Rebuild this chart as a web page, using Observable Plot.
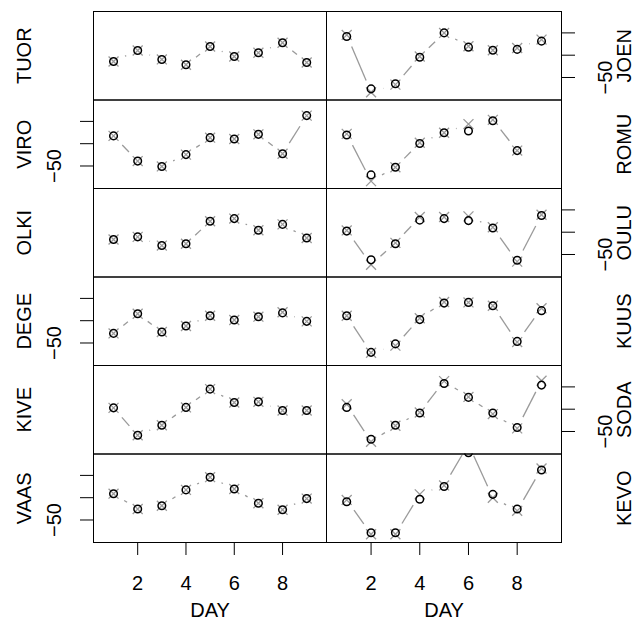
<!DOCTYPE html>
<html>
<head>
<meta charset="utf-8">
<script src="https://cdn.jsdelivr.net/npm/d3@7"></script>
<script src="https://cdn.jsdelivr.net/npm/@observablehq/plot@0.6"></script>
<style>
  html, body { margin: 0; padding: 0; background: white; }
  #chart { position: relative; width: 637px; height: 621px; }
  #chart svg { position: absolute; left: 0; top: 0; }
</style>
</head>
<body>
<div id="chart"></div>
<script>
// ---- data ----
const days = [1, 2, 3, 4, 5, 6, 7, 8, 9];
const xTicks = [2, 4, 6, 8];
const yTicks = [-50, -40, -30];
const yTickLabel = "−50";
const xLabel = "DAY";

const leftStations = ["TUOR", "VIRO", "OLKI", "DEGE", "KIVE", "VAAS"];
const rightStations = ["JOEN", "ROMU", "OULU", "KUUS", "SODA", "KEVO"];

const TUOR_obs = [-42.8, -37.9, -41.9, -44.3, -36.1, -40.6, -38.9, -34.4, -43.3];
const TUOR_fit = [-42.8, -37.9, -41.9, -44.3, -36.1, -40.6, -38.9, -34.4, -43.3];
const VIRO_obs = [-36.5, -47.8, -50.2, -44.9, -37.3, -37.9, -35.8, -44.5, -27.4];
const VIRO_fit = [-36.5, -47.8, -50.2, -44.9, -37.3, -37.9, -35.8, -44.5, -27.4];
const OLKI_obs = [-43.3, -42.1, -46.0, -45.2, -35.1, -33.9, -39.1, -36.5, -42.6];
const OLKI_fit = [-43.3, -42.1, -46.0, -45.2, -35.1, -33.9, -39.1, -36.5, -42.6];
const DEGE_obs = [-45.7, -36.9, -45.1, -42.4, -37.8, -39.7, -38.2, -36.5, -40.3];
const DEGE_fit = [-45.7, -36.9, -45.1, -42.4, -37.8, -39.7, -38.2, -36.2, -40.3];
const KIVE_obs = [-39.4, -51.7, -47.2, -39.2, -31.0, -37.0, -36.7, -40.6, -40.6];
const KIVE_fit = [-39.4, -51.7, -47.2, -39.2, -31.0, -37.0, -36.7, -40.6, -40.6];
const VAAS_obs = [-38.2, -45.1, -43.6, -36.5, -30.8, -36.1, -42.5, -45.4, -40.4];
const VAAS_fit = [-38.2, -45.1, -43.6, -36.5, -30.8, -36.1, -42.5, -45.4, -40.4];

const JOEN_obs = [-31.6, -55.1, -52.8, -40.9, -30.0, -36.4, -37.8, -37.4, -33.7];
const JOEN_fit = [-30.9, -56.6, -53.2, -40.6, -30.0, -36.0, -37.8, -36.8, -33.0];
const ROMU_obs = [-36.1, -54.0, -50.6, -39.9, -35.1, -34.3, -29.7, -43.1, null];
const ROMU_fit = [-35.6, -56.8, -50.6, -39.6, -35.1, -31.2, -29.3, -43.1, null];
const OULU_obs = [-39.5, -52.4, -45.2, -34.6, -33.9, -34.8, -38.1, -52.6, -32.5];
const OULU_fit = [-39.2, -54.6, -44.8, -33.2, -33.2, -32.9, -37.8, -53.2, -32.2];
const KUUS_obs = [-37.8, -54.2, -50.4, -39.5, -32.1, -31.8, -33.3, -49.3, -35.5];
const KUUS_fit = [-37.8, -54.4, -51.2, -38.9, -31.6, -31.8, -33.3, -49.6, -34.4];
const SODA_obs = [-39.2, -53.5, -47.2, -41.7, -28.5, -34.7, -41.7, -48.2, -29.2];
const SODA_fit = [-37.8, -54.6, -47.4, -41.5, -27.4, -34.5, -42.2, -48.6, -27.2];
const KEVO_obs = [-41.8, -55.7, -55.7, -40.7, -35.0, -19.8, -38.5, -45.1, -27.6];
const KEVO_fit = [-41.0, -56.4, -56.4, -38.5, -34.5, -16.0, -40.0, -45.9, -26.9];

const observed = {TUOR: TUOR_obs, VIRO: VIRO_obs, OLKI: OLKI_obs, DEGE: DEGE_obs, KIVE: KIVE_obs, VAAS: VAAS_obs,
  JOEN: JOEN_obs, ROMU: ROMU_obs, OULU: OULU_obs, KUUS: KUUS_obs, SODA: SODA_obs, KEVO: KEVO_obs};
const fitted = {TUOR: TUOR_fit, VIRO: VIRO_fit, OLKI: OLKI_fit, DEGE: DEGE_fit, KIVE: KIVE_fit, VAAS: VAAS_fit,
  JOEN: JOEN_fit, ROMU: ROMU_fit, OULU: OULU_fit, KUUS: KUUS_fit, SODA: SODA_fit, KEVO: KEVO_fit};

// ---- layout ----
const W = 637, H = 621;
const colX = [[93, 326], [326, 561]];
const top0 = 11, bottom0 = 542, nRows = 6;
const rowH = (bottom0 - top0) / nRows;
const xDomain = [0.17, 9.82];
const yDomain = [-60.1, -20.4];
const font = "'Liberation Sans', Arial, Helvetica, sans-serif";
const grey = "#9a9a9a";

function panel(name, col, row) {
  const obs = observed[name], fit = fitted[name];
  const pts = days.map((d, i) => ({day: d, obs: obs[i], fit: fit[i]}));
  const segs = [];
  for (let i = 0; i < days.length - 1; i++) {
    if (fit[i] != null && fit[i + 1] != null) segs.push({d1: days[i], v1: fit[i], d2: days[i + 1], v2: fit[i + 1]});
  }
  const [x0, x1] = colX[col];
  const y0 = top0 + row * rowH, y1 = y0 + rowH;
  const isLeft = col === 0;
  const hasYAxis = isLeft ? row % 2 === 1 : row % 2 === 0;
  const hasXAxis = row === nRows - 1;

  const marks = [
    Plot.frame({stroke: "black", strokeWidth: 1}),
    Plot.arrow(segs, {x1: "d1", y1: "v1", x2: "d2", y2: "v2", headLength: 0, bend: 0,
      insetStart: 12.6, insetEnd: 12.6, stroke: grey, strokeWidth: 1.3, strokeLinecap: "butt", clip: true}),
    Plot.dot(pts, {x: "day", y: "fit", symbol: "times", r: 4.6, stroke: grey, strokeWidth: 1.3, clip: true}),
    Plot.dot(pts, {x: "day", y: "obs", r: 3.8, stroke: "black", strokeWidth: 1.5, fill: "none", clip: true}),
    Plot.text([name], {text: d => d, frameAnchor: isLeft ? "left" : "right", dx: isLeft ? -69 : 63,
      rotate: -90, textAnchor: "middle", lineAnchor: "middle", fontSize: 20, fill: "black"})
  ];
  if (hasYAxis) {
    marks.push(Plot.axisY(yTicks, {anchor: isLeft ? "left" : "right", tickSize: 13, tickFormat: () => "", label: null, stroke: "black"}));
    marks.push(Plot.text([yTicks[0]], {y: d => d, text: () => yTickLabel, frameAnchor: isLeft ? "left" : "right",
      dx: isLeft ? -38.5 : 44, rotate: -90, textAnchor: "middle", lineAnchor: "middle", fontSize: 20, fill: "black"}));
  }
  if (hasXAxis) {
    marks.push(Plot.axisX(xTicks, {anchor: "bottom", tickSize: 13, tickPadding: 20, fontSize: 20, label: null, stroke: "black"}));
    marks.push(Plot.text([xLabel], {text: d => d, frameAnchor: "bottom", dy: 68, textAnchor: "middle",
      lineAnchor: "middle", fontSize: 20, fill: "black"}));
  }
  return Plot.plot({
    width: W, height: H,
    marginLeft: x0, marginRight: W - x1, marginTop: y0, marginBottom: H - y1,
    x: hasXAxis ? {domain: xDomain} : {domain: xDomain, axis: null},
    y: hasYAxis ? {domain: yDomain} : {domain: yDomain, axis: null},
    style: {background: "transparent", fontFamily: font, fontSize: "20px", color: "black", overflow: "visible"},
    marks
  });
}

const chart = document.getElementById("chart");
leftStations.forEach((s, r) => chart.appendChild(panel(s, 0, r)));
rightStations.forEach((s, r) => chart.appendChild(panel(s, 1, r)));
</script>
</body>
</html>
